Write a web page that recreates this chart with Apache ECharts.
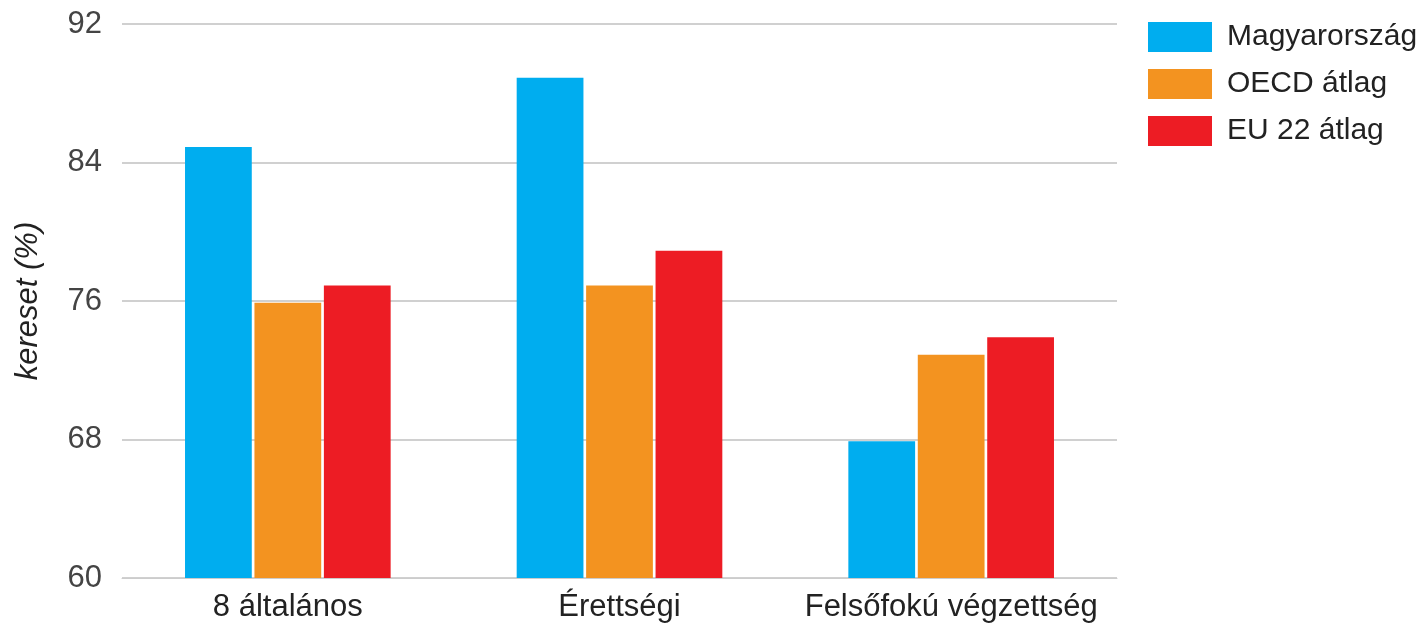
<!DOCTYPE html>
<html>
<head>
<meta charset="utf-8">
<script src="https://cdn.jsdelivr.net/npm/echarts@6/dist/echarts.min.js"></script>
<style>
html,body{margin:0;padding:0;background:#fff;}
#chart{width:1428px;height:627px;}
</style>
</head>
<body>
<div id="chart"></div>
<script>
const categories = ['8 általános', 'Érettségi', 'Felsőfokú végzettség'];
const seriesNames = ['Magyarország', 'OECD átlag', 'EU 22 átlag'];
const magyar = [84.9, 88.9, 67.9];
const oecd = [75.9, 76.9, 72.9];
const eu22 = [76.9, 78.9, 73.9];
const colors = ['#00ADEF', '#F39320', '#ED1C24'];
const yMin = 60, yMax = 92, yStep = 8;

const font = '"Liberation Sans", Arial, sans-serif';
const chart = echarts.init(document.getElementById('chart'));
const values = [magyar, oecd, eu22];
chart.setOption({
  animation: false,
  color: colors,
  grid: { left: 122, right: 311, top: 24, bottom: 49, containLabel: false },
  legend: {
    orient: 'vertical', left: 1148, top: 22, padding: 0, itemWidth: 64, itemHeight: 30, itemGap: 17,
    icon: 'rect',
    textStyle: { fontFamily: font, fontSize: 30, color: '#222', padding: [0, 0, 0, 10] },
    data: seriesNames
  },
  xAxis: {
    type: 'category', data: categories,
    axisLine: { show: true, lineStyle: { color: '#ccc', width: 1 } },
    axisTick: { show: false },
    axisLabel: { fontFamily: font, fontSize: 31, color: '#222', margin: 14, interval: 0 }
  },
  yAxis: {
    type: 'value', min: yMin, max: yMax, interval: yStep,
    name: 'kereset (%)', nameLocation: 'middle', nameGap: 78,
    nameTextStyle: { fontFamily: font, fontSize: 31, fontStyle: 'italic', color: '#222' },
    axisLine: { show: false }, axisTick: { show: false },
    axisLabel: { fontFamily: font, fontSize: 31, color: '#444', margin: 20 },
    splitLine: { lineStyle: { color: '#d0d0d0', width: 2 } }
  },
  series: seriesNames.map((n, i) => ({
    name: n, type: 'bar', data: values[i],
    barCategoryGap: '38%', barGap: '4%'
  }))
});
</script>
</body>
</html>
